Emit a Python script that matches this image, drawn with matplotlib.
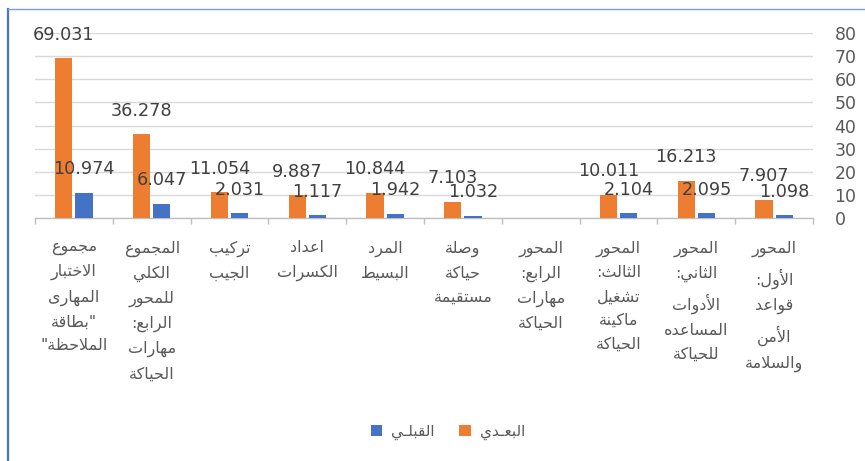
import matplotlib
matplotlib.use('Agg')
import matplotlib.pyplot as plt
from matplotlib.patches import Patch
from matplotlib.lines import Line2D
import numpy as np

# ---------------- data (logical order, first category drawn at the right) ----
categories = [
    'المحور الأول: قواعد الأمن والسلامة',
    'المحور الثاني: الأدوات المساعده للحياكة',
    'المحور الثالث: تشغيل ماكينة الحياكة',
    'المحور الرابع: مهارات الحياكة',
    'وصلة حياكة مستقيمة',
    'المرد البسيط',
    'اعداد الكسرات',
    'تركيب الجيب',
    'المجموع الكلي للمحور الرابع: مهارات الحياكة',
    'مجموع الاختبار المهارى "بطاقة الملاحظة"',
]
post_values = [7.907, 16.213, 10.011, None, 7.103, 10.844, 9.887, 11.054, 36.278, 69.031]
pre_values = [1.098, 2.095, 2.104, None, 1.032, 1.942, 1.117, 2.031, 6.047, 10.974]
series_names = ['البعـدي', 'القبلـي']
y_ticks = [0, 10, 20, 30, 40, 50, 60, 70, 80]

# ---------------- minimal Arabic shaping (presentation forms + RTL) ----------
FORMS = {
    'ء': (0xFE80, None, None, None),
    'آ': (0xFE81, 0xFE82, None, None),
    'أ': (0xFE83, 0xFE84, None, None),
    'ؤ': (0xFE85, 0xFE86, None, None),
    'إ': (0xFE87, 0xFE88, None, None),
    'ئ': (0xFE89, 0xFE8A, 0xFE8B, 0xFE8C),
    'ا': (0xFE8D, 0xFE8E, None, None),
    'ب': (0xFE8F, 0xFE90, 0xFE91, 0xFE92),
    'ة': (0xFE93, 0xFE94, None, None),
    'ت': (0xFE95, 0xFE96, 0xFE97, 0xFE98),
    'ث': (0xFE99, 0xFE9A, 0xFE9B, 0xFE9C),
    'ج': (0xFE9D, 0xFE9E, 0xFE9F, 0xFEA0),
    'ح': (0xFEA1, 0xFEA2, 0xFEA3, 0xFEA4),
    'خ': (0xFEA5, 0xFEA6, 0xFEA7, 0xFEA8),
    'د': (0xFEA9, 0xFEAA, None, None),
    'ذ': (0xFEAB, 0xFEAC, None, None),
    'ر': (0xFEAD, 0xFEAE, None, None),
    'ز': (0xFEAF, 0xFEB0, None, None),
    'س': (0xFEB1, 0xFEB2, 0xFEB3, 0xFEB4),
    'ش': (0xFEB5, 0xFEB6, 0xFEB7, 0xFEB8),
    'ص': (0xFEB9, 0xFEBA, 0xFEBB, 0xFEBC),
    'ض': (0xFEBD, 0xFEBE, 0xFEBF, 0xFEC0),
    'ط': (0xFEC1, 0xFEC2, 0xFEC3, 0xFEC4),
    'ظ': (0xFEC5, 0xFEC6, 0xFEC7, 0xFEC8),
    'ع': (0xFEC9, 0xFECA, 0xFECB, 0xFECC),
    'غ': (0xFECD, 0xFECE, 0xFECF, 0xFED0),
    'ف': (0xFED1, 0xFED2, 0xFED3, 0xFED4),
    'ق': (0xFED5, 0xFED6, 0xFED7, 0xFED8),
    'ك': (0xFED9, 0xFEDA, 0xFEDB, 0xFEDC),
    'ل': (0xFEDD, 0xFEDE, 0xFEDF, 0xFEE0),
    'م': (0xFEE1, 0xFEE2, 0xFEE3, 0xFEE4),
    'ن': (0xFEE5, 0xFEE6, 0xFEE7, 0xFEE8),
    'ه': (0xFEE9, 0xFEEA, 0xFEEB, 0xFEEC),
    'و': (0xFEED, 0xFEEE, None, None),
    'ى': (0xFEEF, 0xFEF0, None, None),
    'ي': (0xFEF1, 0xFEF2, 0xFEF3, 0xFEF4),
}
LAM_ALEF = {'ا': (0xFEFB, 0xFEFC), 'أ': (0xFEF7, 0xFEF8),
            'إ': (0xFEF9, 0xFEFA), 'آ': (0xFEF5, 0xFEF6)}
TATWEEL = '\u0640'


def _joins_next(t):
    if t == TATWEEL:
        return True
    return t in FORMS and FORMS[t][2] is not None


def _joins_prev(t):
    if t == TATWEEL:
        return True
    if isinstance(t, tuple):
        return True
    return t in FORMS and FORMS[t][1] is not None


def shape_line(text):
    toks = []
    i = 0
    while i < len(text):
        c = text[i]
        if c == 'ل' and i + 1 < len(text) and text[i + 1] in LAM_ALEF:
            toks.append(('LA', text[i + 1]))
            i += 2
        else:
            toks.append(c)
            i += 1
    out = []
    n = len(toks)
    for k, t in enumerate(toks):
        prev_c = k > 0 and _joins_next(toks[k - 1]) and _joins_prev(t)
        if isinstance(t, tuple):
            iso, fin = LAM_ALEF[t[1]]
            out.append(chr(fin if prev_c else iso))
            continue
        if t not in FORMS:
            out.append(t)
            continue
        next_c = (k < n - 1 and _joins_next(t) and _joins_prev(toks[k + 1]))
        iso, fin, ini, med = FORMS[t]
        if prev_c and next_c:
            g = med
        elif prev_c:
            g = fin
        elif next_c:
            g = ini
        else:
            g = iso
        out.append(chr(g))
    return ''.join(out)[::-1]


def ar(text, wrap=False):
    lines = text.split(' ') if wrap else [text]
    return '\n'.join(shape_line(l) for l in lines)


# ---------------- figure --------------------------------------------------
W, H = 865, 461
fig = plt.figure(figsize=(W / 100, H / 100), dpi=100)
fig.patch.set_facecolor('white')

x0, x1, y0, y1 = 35, 813, 218, 33
ax = fig.add_axes([x0 / W, 1 - y0 / H, (x1 - x0) / W, (y0 - y1) / H])

ORANGE = '#ED7D31'
BLUE = '#4472C4'
GRID = '#D9D9D9'
TXT = '#595959'
LBL = '#404040'

n = len(categories)
x = np.arange(n)
bw = 0.22
off = 0.13

post_plot = [np.nan if v is None else v for v in post_values]
pre_plot = [np.nan if v is None else v for v in pre_values]

ax.bar(x + off, post_plot, width=bw, color=ORANGE, zorder=3)
ax.bar(x - off, pre_plot, width=bw, color=BLUE, zorder=3)

for xi, v in zip(x, post_values):
    if v is not None:
        ax.annotate(f'{v:.3f}', (xi + off, v), xytext=(0, 10.5), textcoords='offset points',
                    ha='center', va='bottom', fontsize=12.7, color=LBL, zorder=4)
for xi, v in zip(x, pre_values):
    if v is not None:
        ax.annotate(f'{v:.3f}', (xi - off, v), xytext=(0, 10.5), textcoords='offset points',
                    ha='center', va='bottom', fontsize=12.7, color=LBL, zorder=4)

ax.set_xlim(n - 0.5, -0.5)
ax.set_ylim(0, 80)
ax.set_yticks(y_ticks)
ax.yaxis.tick_right()
ax.tick_params(axis='y', length=0, pad=15.5, labelsize=12.5, labelcolor=TXT)
ax.yaxis.grid(True, color=GRID, linewidth=1.0, zorder=0)
ax.set_axisbelow(True)

for s in ['top', 'left', 'right']:
    ax.spines[s].set_visible(False)
ax.spines['bottom'].set_color('#BFBFBF')
ax.spines['bottom'].set_linewidth(1.0)

ax.set_xticks(np.arange(-0.5, n, 1.0))
ax.set_xticklabels([])
ax.tick_params(axis='x', which='major', length=4, width=1.0, color='#BFBFBF', direction='out')
ax.set_xticks(x, minor=True)
ax.set_xticklabels([ar(c, wrap=True) for c in categories], minor=True,
                   fontsize=11.5, color=TXT, linespacing=1.74)
ax.tick_params(axis='x', which='minor', length=0, pad=16)

handles = [Patch(facecolor=BLUE, edgecolor='none'), Patch(facecolor=ORANGE, edgecolor='none')]
labels = [ar(series_names[1]), ar(series_names[0])]
fig.legend(handles, labels, loc='center', bbox_to_anchor=(448 / W, 1 - 432 / H),
           ncol=2, frameon=False, fontsize=11, labelcolor=TXT,
           handlelength=0.75, handleheight=0.75, handletextpad=0.6, columnspacing=1.6)

# outer chart-area border (visible on left and top)
fig.add_artist(Line2D([8 / W, 8 / W], [0, 1 - 9 / H], color='#4A72D0', linewidth=1.6,
                      transform=fig.transFigure))
fig.add_artist(Line2D([8 / W, 1], [1 - 9 / H, 1 - 9 / H], color='#7F9BDD', linewidth=1.0,
                      transform=fig.transFigure))

fig.savefig('out.png', dpi=100, facecolor='white')
